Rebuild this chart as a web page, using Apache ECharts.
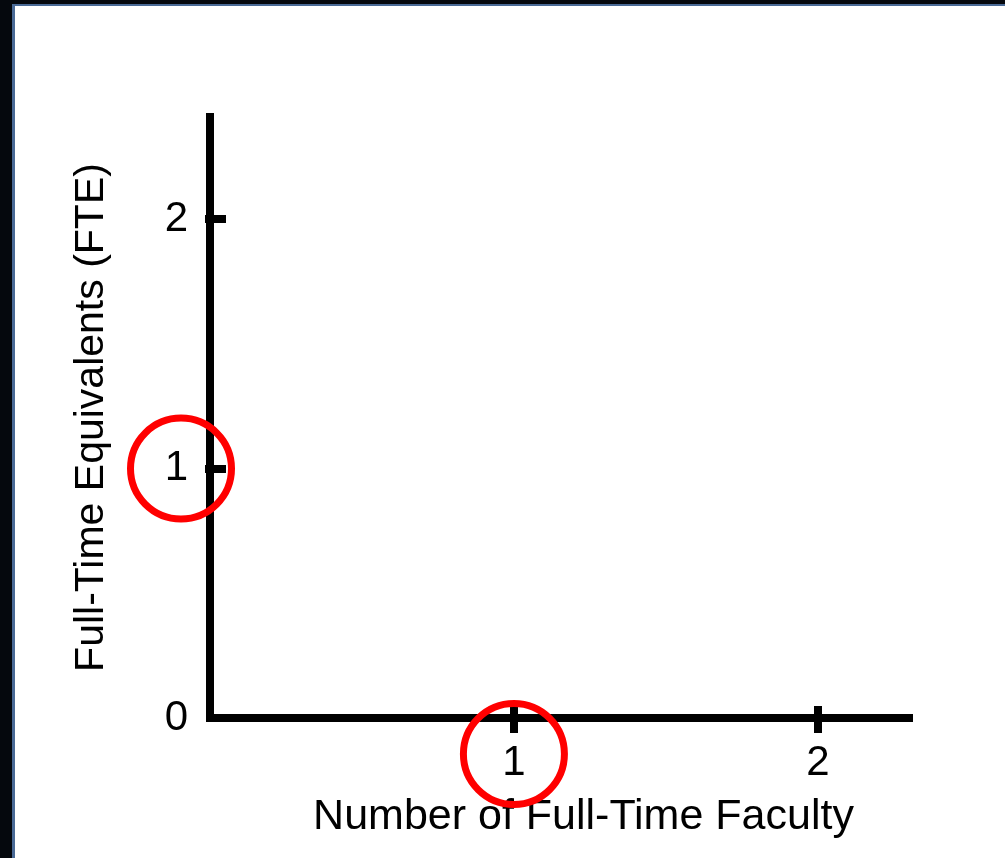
<!DOCTYPE html>
<html>
<head>
<meta charset="utf-8">
<script src="https://cdn.jsdelivr.net/npm/echarts@6/dist/echarts.min.js"></script>
<style>
  html, body { margin: 0; padding: 0; background: #05080d; }
  .frame {
    position: absolute; left: 12px; top: 4px;
    border-left: 3px solid #4a6a96; border-top: 2px solid #4a6a96;
    background: #fff;
  }
  #chart { width: 990px; height: 852px; }
</style>
</head>
<body>
<div class="frame"><div id="chart"></div></div>
<script>
// axis values
var xTicks = [1, 2];
var yTicks = [0, 1, 2];
var xMax = 2.3;
var yMax = 2.41;
// the two tick labels ringed in red
var ringed = [[0, 1], [1, 0]];
var ringOffsets = [[-29, 0], [0, 36]];

var xName = "Number of Full-Time Faculty";
var yName = "Full-Time Equivalents (FTE)";

var font = "Liberation Sans";
var myChart = echarts.init(document.getElementById("chart"));

var axisBase = {
    type: "value",
    min: 0,
    splitLine: { show: false },
    axisLine: { onZero: true, lineStyle: { color: "#000", width: 8, cap: "square" } }
};

var option = {
    animation: false,
    grid: { left: 195, top: 111, right: 96, bottom: 140, containLabel: false },
    xAxis: [
        Object.assign({}, axisBase, {
            max: xMax,
            name: xName,
            nameLocation: "middle",
            nameGap: 78,
            nameTextStyle: { fontFamily: font, fontSize: 43, color: "#000", padding: [0, 0, 0, 48] },
            axisTick: { show: true, customValues: xTicks, length: 15, lineStyle: { color: "#000", width: 8 } },
            axisLabel: { customValues: xTicks, margin: 24, fontFamily: font, fontSize: 42, color: "#000" }
        }),
        Object.assign({}, axisBase, {
            max: xMax,
            position: "bottom",
            axisLine: { show: false },
            axisTick: { show: true, inside: true, customValues: xTicks, length: 12, lineStyle: { color: "#000", width: 8 } },
            axisLabel: { show: false }
        })
    ],
    yAxis: [
        Object.assign({}, axisBase, {
            max: yMax,
            name: yName,
            nameLocation: "middle",
            nameGap: 98,
            nameTextStyle: { fontFamily: font, fontSize: 41, color: "#000" },
            axisTick: { show: true, customValues: [1, 2], length: 5, lineStyle: { color: "#000", width: 8 } },
            axisLabel: { customValues: yTicks, margin: 22, fontFamily: font, fontSize: 42, color: "#000" }
        }),
        Object.assign({}, axisBase, {
            max: yMax,
            position: "left",
            axisLine: { show: false },
            axisTick: { show: true, inside: true, customValues: [1, 2], length: 16, lineStyle: { color: "#000", width: 8 } },
            axisLabel: { show: false }
        })
    ],
    series: ringed.map(function (p, i) {
        return {
            type: "scatter",
            clip: false,
            silent: true,
            symbol: "circle",
            symbolSize: 101,
            symbolOffset: ringOffsets[i],
            itemStyle: { color: "rgba(0,0,0,0)", borderColor: "#ff0000", borderWidth: 7, opacity: 1 },
            data: [p]
        };
    })
};

myChart.setOption(option);
window.addEventListener("resize", function () {
    myChart.resize();
});
</script>
</body>
</html>
